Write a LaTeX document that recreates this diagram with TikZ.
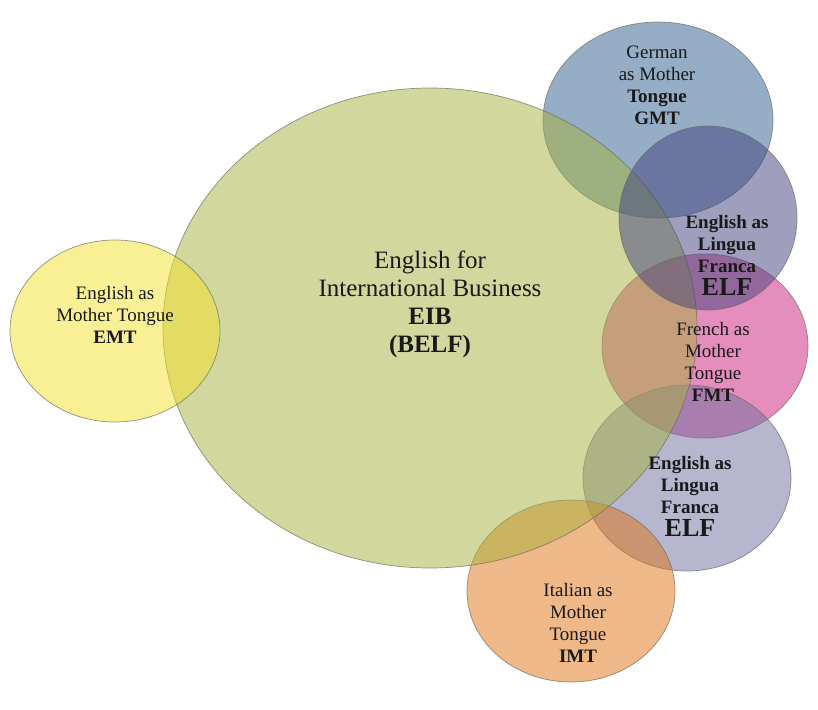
\documentclass[tikz,border=0pt]{standalone}
\usepackage{fontspec}
\setmainfont{Liberation Serif}
\definecolor{cgreen}{RGB}{167,177,61}
\definecolor{cyellow}{RGB}{245,225,45}
\definecolor{cblue}{RGB}{45,92,141}
\definecolor{cpurple}{RGB}{65,65,125}
\definecolor{cpink}{RGB}{205,30,125}
\definecolor{cgray}{RGB}{110,110,160}
\definecolor{corange}{RGB}{225,115,20}
\definecolor{cedge}{RGB}{105,105,90}
\definecolor{ctext}{RGB}{25,25,25}
\tikzset{
  venn/.style={fill=#1, fill opacity=0.5, draw=cedge, draw opacity=0.7, line width=0.7pt},
  lbl/.style={align=center, text=ctext, inner sep=0pt, font=\fontsize{19}{22}\selectfont},
}
\begin{document}
\begin{tikzpicture}[x=1pt,y=-1pt]
\useasboundingbox (0,0) rectangle (818,709);
\fill[white] (0,0) rectangle (818,709);
% shapes
\path[venn=cpink] (705,346) ellipse (103 and 92);
\path[venn=cgray] (687,478) ellipse (104 and 93);
\path[venn=corange] (571,591) ellipse (104 and 91);
\path[venn=cblue] (658,120) ellipse (115 and 98);
\path[venn=cgreen] (430,328) ellipse (267 and 240);
\path[venn=cpurple] (708,218) ellipse (89 and 92);
\path[venn=cyellow] (115,331) ellipse (105 and 91);
% texts
\node[lbl, font=\fontsize{25}{28}\selectfont] (eib) at (430,304)
  {English for\\International Business\\\textbf{EIB}\\\textbf{(BELF)}};
\node[lbl] (emt) at (115,315) {English as\\Mother Tongue\\\textbf{EMT}};
\node[lbl] (gmt) at (657,85) {German\\as Mother\\\textbf{Tongue}\\\textbf{GMT}};
\node[lbl, font=\fontsize{19}{22}\selectfont\bfseries] (elfa) at (727,255)
  {English as\\Lingua\\Franca\\[1pt]{\fontsize{26}{26}\selectfont ELF}};
\node[lbl] (fmt) at (713,362) {French as\\Mother\\Tongue\\\textbf{FMT}};
\node[lbl, font=\fontsize{19}{22}\selectfont\bfseries] (elfb) at (690,496)
  {English as\\Lingua\\Franca\\[1pt]{\fontsize{26}{26}\selectfont ELF}};
\node[lbl] (imt) at (578,623) {Italian as\\Mother\\Tongue\\\textbf{IMT}};
\end{tikzpicture}
\end{document}
